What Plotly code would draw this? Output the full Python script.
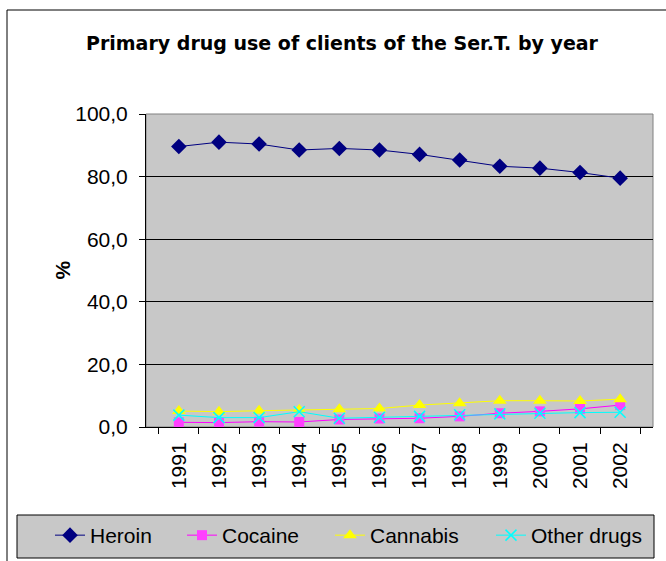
import plotly.graph_objects as go

# Share of Ser.T. clients by primary drug (%)
years = ["1991", "1992", "1993", "1994", "1995", "1996",
         "1997", "1998", "1999", "2000", "2001", "2002"]
heroin = [89.6, 91.0, 90.4, 88.5, 89.0, 88.5, 87.1, 85.3, 83.3, 82.7, 81.3, 79.5]
cocaine = [1.5, 1.4, 1.7, 1.6, 2.4, 2.7, 2.8, 3.4, 4.4, 5.0, 5.8, 7.0]
cannabis = [5.1, 4.9, 5.2, 5.4, 5.7, 5.9, 7.0, 7.6, 8.4, 8.4, 8.3, 8.9]
other = [3.8, 3.0, 3.0, 4.9, 2.8, 3.1, 3.4, 3.9, 4.2, 4.4, 4.6, 4.7]
y_ticks = [0, 20, 40, 60, 80, 100]

W, H = 666, 561
ML, MR, MT, MB = 146, 13, 114, 134
PW, PH = W - ML - MR, H - MT - MB


def px_x(x):
    return (x - ML) / PW


def px_y(y):
    return (H - MB - y) / PH


FONT = "Arial, Liberation Sans, sans-serif"
FS = 21

fig = go.Figure()

fig.add_trace(go.Scatter(
    x=years, y=heroin, name="Heroin", mode="lines+markers", legend="legend",
    line=dict(color="#000080", width=1),
    marker=dict(symbol="diamond", size=12, color="#000080"),
))
fig.add_trace(go.Scatter(
    x=years, y=cocaine, name="Cocaine", mode="lines+markers", legend="legend2",
    line=dict(color="#FF00FF", width=1),
    marker=dict(symbol="square", size=10, color="#FF40FF"),
))
fig.add_trace(go.Scatter(
    x=years, y=cannabis, name="Cannabis", mode="lines+markers", legend="legend3",
    line=dict(color="#FFFF00", width=1),
    marker=dict(symbol="triangle-up", size=12, color="#FFFF00"),
))
fig.add_trace(go.Scatter(
    x=years, y=other, name="Other drugs", mode="lines+markers", legend="legend4",
    line=dict(color="#00FFFF", width=1),
    marker=dict(symbol="x-thin", size=11, color="#00FFFF",
                line=dict(color="#00FFFF", width=1.5)),
))

shapes = [
    # outer chart frame
    dict(type="rect", xref="paper", yref="paper",
         x0=px_x(7), x1=px_x(672), y0=px_y(568), y1=px_y(10),
         line=dict(color="#000000", width=1), fillcolor="rgba(0,0,0,0)",
         layer="below"),
    # legend box
    dict(type="rect", xref="paper", yref="paper",
         x0=px_x(17), x1=px_x(654), y0=px_y(558), y1=px_y(515),
         line=dict(color="#000000", width=1), fillcolor="#C8C8C8",
         layer="below"),
    # plot area border
    dict(type="rect", xref="paper", yref="paper",
         x0=0, x1=1, y0=0, y1=1,
         line=dict(color="#808080", width=1), fillcolor="rgba(0,0,0,0)",
         layer="below"),
]


def legend_at(left_px):
    return dict(orientation="h",
                xref="container", x=left_px / W,
                yref="container", y=1 - 515 / H,
                xanchor="left", yanchor="top",
                bgcolor="rgba(0,0,0,0)", borderwidth=0,
                font=dict(family=FONT, size=FS),
                itemwidth=30)


fig.update_layout(
    width=W, height=H,
    margin=dict(l=ML, r=MR, t=MT, b=MB, autoexpand=False),
    paper_bgcolor="#FFFFFF",
    plot_bgcolor="#C8C8C8",
    separators=",.",
    font=dict(family=FONT, size=FS, color="#000000"),
    title=dict(text="<b>Primary drug use of clients of the Ser.T. by year</b>",
               xref="container", x=342 / W, xanchor="center",
               yref="container", y=1 - 43 / H, yanchor="middle",
               font=dict(family="DejaVu Sans, sans-serif", size=19)),
    showlegend=True,
    legend=legend_at(50),
    legend2=legend_at(182),
    legend3=legend_at(330),
    legend4=legend_at(491),
    shapes=shapes,
    annotations=[dict(text="<b>%</b>", xref="paper", yref="paper",
                      x=px_x(48), y=px_y(270), showarrow=False,
                      textangle=-90, font=dict(family=FONT, size=FS))],
)

fig.update_xaxes(
    type="category", tickson="boundaries", automargin=False,
    ticks="outside", ticklen=6, tickcolor="#000000",
    showline=True, linecolor="#000000", linewidth=1,
    showgrid=False, tickangle=-90,
    tickfont=dict(family=FONT, size=FS),
    ticklabelstandoff=6,
)
fig.update_yaxes(
    range=[0, 100], tickvals=y_ticks, tickformat=".1f", automargin=False,
    ticks="outside", ticklen=6, tickcolor="#000000",
    showline=True, linecolor="#000000", linewidth=1,
    showgrid=True, gridcolor="#000000", gridwidth=1,
    zeroline=False,
    tickfont=dict(family=FONT, size=FS),
    ticklabelstandoff=7,
)

fig.write_html("out.html")
